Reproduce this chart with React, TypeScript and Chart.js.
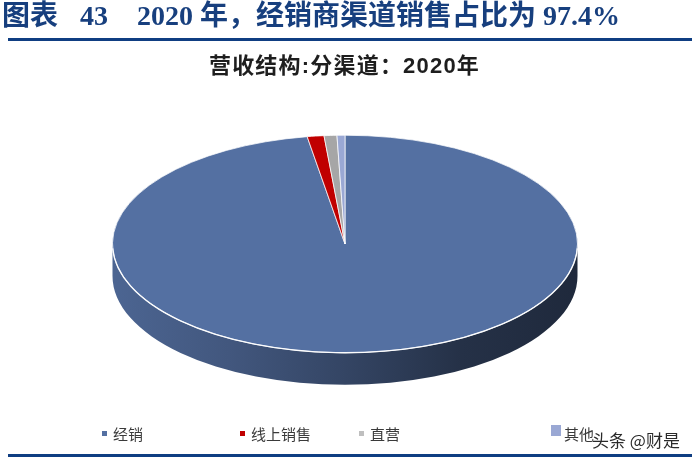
import React, { useEffect, useRef } from "react";
import { Chart, registerables } from "chart.js";

Chart.register(...registerables);

// ---- data ----
const categories = ["经销", "线上销售", "直营", "其他"];
const shares = [97.4, 1.16, 0.89, 0.55];
const sliceColors = ["#5470a2", "#c00000", "#a6a6a6", "#9aa8d4"];
const legendMarkColors = ["#5470a2", "#c00000", "#bfbfbf", "#9aa8d4"];
const legendLeft = [102, 240, 359, 551];
const mainTitle = ["图表", "43", "2020 年，经销商渠道销售占比为 97.4%"];
const chartTitle = "营收结构:分渠道：2020年";
const watermark = "头条 @财是";

// ---- 3D look ----
const SQUASH = 109 / 233;
const DEPTH = 32;
const wallStops: [number, number][] = [
  [0, 0.9],
  [0.25, 0.78],
  [0.5, 0.62],
  [0.75, 0.44],
  [1, 0.37],
];

function shade(hex: string, f: number) {
  const n = parseInt(hex.slice(1), 16);
  const r = Math.round(((n >> 16) & 255) * f);
  const g = Math.round(((n >> 8) & 255) * f);
  const b = Math.round((n & 255) * f);
  return `rgb(${r},${g},${b})`;
}

const pie3d = {
  id: "pie3d",
  beforeDatasetsDraw(chart: any) {
    const meta = chart.getDatasetMeta(0);
    const ctx = chart.ctx as CanvasRenderingContext2D;
    const first = meta.data[0];
    const cx = first ? first.x : chart.chartArea.left + chart.chartArea.width / 2;
    const cy = first ? first.y : chart.chartArea.top + chart.chartArea.height / 2;
    meta.data.forEach((arc: any, i: number) => {
      const r = arc.outerRadius;
      const a1 = Math.max(arc.startAngle, 0);
      const a2 = Math.min(arc.endAngle, Math.PI);
      if (a2 <= a1) return;
      const grad = ctx.createLinearGradient(cx - r, 0, cx + r, 0);
      wallStops.forEach(([s, f]) => grad.addColorStop(s, shade(sliceColors[i], f)));
      ctx.save();
      ctx.beginPath();
      ctx.ellipse(cx, cy, r, r * SQUASH, 0, a1, a2, false);
      ctx.ellipse(cx, cy + DEPTH, r, r * SQUASH, 0, a2, a1, true);
      ctx.closePath();
      ctx.fillStyle = grad;
      ctx.fill();
      ctx.restore();
    });
    ctx.save();
    ctx.translate(cx, cy);
    ctx.scale(1, SQUASH);
    ctx.translate(-cx, -cy);
  },
  afterDatasetsDraw(chart: any) {
    const ctx = chart.ctx as CanvasRenderingContext2D;
    ctx.restore();
    const meta = chart.getDatasetMeta(0);
    const first = meta.data[0];
    if (!first) return;
    const r = first.outerRadius;
    ctx.save();
    ctx.beginPath();
    ctx.ellipse(first.x, first.y, r, r * SQUASH, 0, 0.04, Math.PI - 0.04, false);
    ctx.strokeStyle = "rgba(255,255,255,0.95)";
    ctx.lineWidth = 1.3;
    ctx.stroke();
    ctx.restore();
  },
};

function PieChart() {
  const ref = useRef<HTMLCanvasElement | null>(null);
  useEffect(() => {
    if (!ref.current) return;
    const chart = new Chart(ref.current, {
      type: "pie",
      data: {
        labels: categories,
        datasets: [
          {
            data: shares,
            backgroundColor: sliceColors,
            borderColor: "#ffffff",
            borderWidth: 1,
          },
        ],
      },
      options: {
        responsive: false,
        maintainAspectRatio: false,
        animation: false,
        events: [],
        layout: { padding: { top: 0, bottom: 0, left: 0, right: 10 } },
        plugins: {
          legend: { display: false },
          tooltip: { enabled: false },
          title: { display: false },
        },
      },
      plugins: [pie3d],
    } as any);
    return () => chart.destroy();
  }, []);
  return (
    <canvas
      ref={ref}
      width={700}
      height={466}
      style={{ position: "absolute", left: 0, top: 11, width: 700, height: 466 }}
    />
  );
}

export default function App() {
  const titleFont = '"Liberation Serif", "Noto Sans CJK SC", serif';
  const titleStyle: React.CSSProperties = {
    position: "absolute",
    top: 0,
    fontFamily: titleFont,
    fontWeight: 700,
    fontSize: 28,
    lineHeight: "32px",
    color: "#173f7e",
    whiteSpace: "pre",
  };
  return (
    <div
      style={{
        position: "fixed",
        left: 0,
        top: 0,
        width: 700,
        height: 462,
        background: "#ffffff",
        overflow: "hidden",
      }}
    >
      <PieChart />
      <span style={{ ...titleStyle, left: 2 }}>{mainTitle[0]}</span>
      <span style={{ ...titleStyle, left: 80 }}>{mainTitle[1]}</span>
      <span style={{ ...titleStyle, left: 137 }}>{mainTitle[2]}</span>
      <div style={{ position: "absolute", left: 8, top: 38, width: 684, height: 3, background: "#0f3e82" }} />
      <div
        style={{
          position: "absolute",
          left: 0,
          top: 53,
          width: 689,
          textAlign: "center",
          fontFamily: '"Liberation Sans", "Noto Sans CJK SC", sans-serif',
          fontWeight: 700,
          fontSize: 22,
          lineHeight: "26px",
          letterSpacing: "1.2px",
          color: "#1e1e1e",
          whiteSpace: "pre",
        }}
      >
        {chartTitle}
      </div>
      {categories.map((c, i) => {
        const big = i === 3;
        return (
          <div
            key={c}
            style={{
              position: "absolute",
              left: legendLeft[i],
              top: 424,
              height: 18,
              display: "flex",
              alignItems: "center",
              fontFamily: '"Noto Sans CJK SC", sans-serif',
              fontSize: 15,
              color: "#3a3a3a",
              whiteSpace: "pre",
            }}
          >
            <span
              style={{
                display: "inline-block",
                width: big ? 10 : 5,
                height: big ? 11 : 5,
                background: legendMarkColors[i],
                marginRight: big ? 3 : 6,
                marginTop: big ? -6 : 0,
              }}
            />
            <span>{c}</span>
          </div>
        );
      })}
      <div
        style={{
          position: "absolute",
          left: 592,
          top: 429,
          fontFamily: '"Noto Sans CJK SC", sans-serif',
          fontSize: 17,
          lineHeight: "22px",
          color: "#2a2a2a",
          textShadow: "0 0 2px #fff, 0 0 2px #fff",
          whiteSpace: "pre",
        }}
      >
        {watermark}
      </div>
      <div style={{ position: "absolute", left: 8, top: 454, width: 684, height: 3, background: "#0f3e82" }} />
    </div>
  );
}
